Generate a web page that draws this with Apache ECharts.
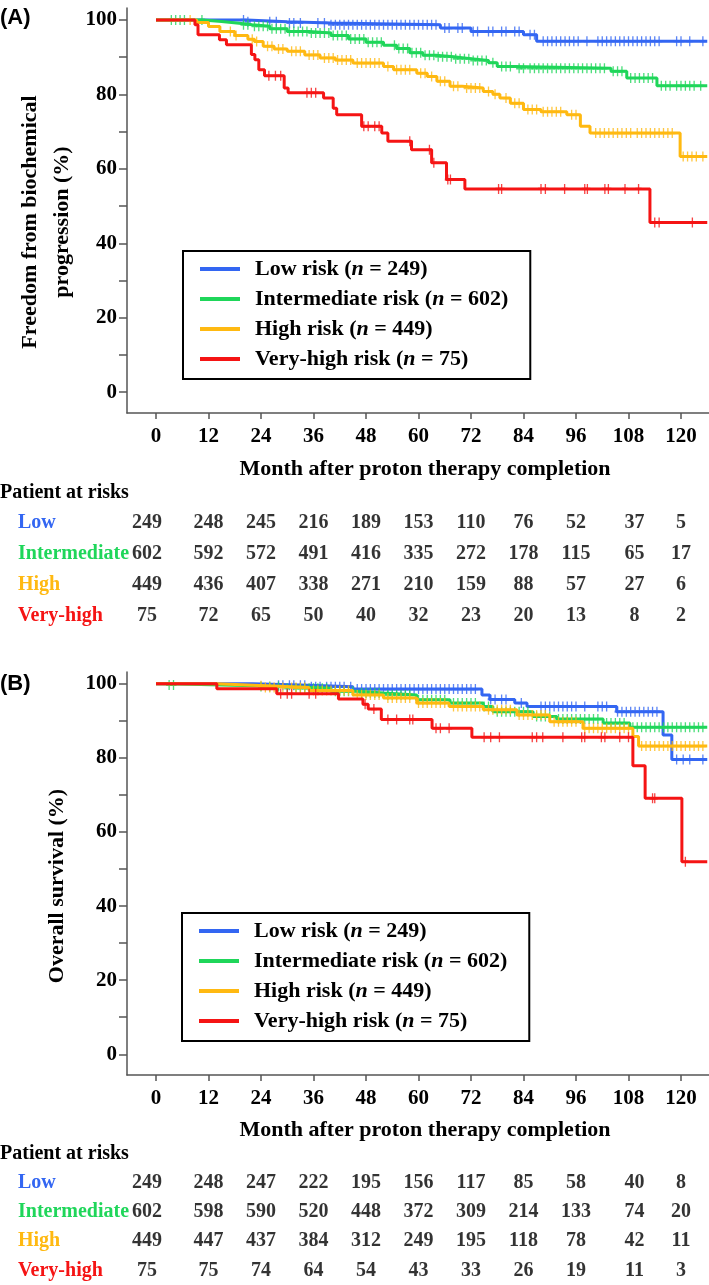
<!DOCTYPE html>
<html><head><meta charset="utf-8">
<script src="https://cdn.jsdelivr.net/npm/echarts@6/dist/echarts.min.js"></script>
<style>html,body{margin:0;padding:0;background:#fff}#c{width:709px;height:1285px}</style>
</head><body><div id="c"></div>
<script>
// ---------- DATA ----------
const groupNames = ['Low risk', 'Intermediate risk', 'High risk', 'Very-high risk'];
const groupN = [249, 602, 449, 75];
const rowNames = ['Low', 'Intermediate', 'High', 'Very-high'];
const xTicks = [0, 12, 24, 36, 48, 60, 72, 84, 96, 108, 120];
const yLabels = [0, 20, 40, 60, 80, 100];
const yMinorTicks = [0, 10, 20, 30, 40, 50, 60, 70, 80, 90, 100];

// Panel A: freedom from biochemical progression (step times / survival %)
const aLowT = [0, 20.7, 30, 40, 65, 72, 84, 87, 126];
const aLowS = [100, 99.5, 99.2, 98.7, 97.8, 96.9, 96.0, 94.3, 94.3];
const aLowC = [20, 21, 26, 27.5, 30.5, 31.5, 33, 37, 38.5, 40, 41, 42, 43, 44, 45, 46, 47, 48, 49, 50, 51, 52, 53, 54, 55, 56, 57, 58, 59, 60, 61, 62, 63, 64, 66, 67, 69, 70, 72.5, 73.5, 76, 77, 79, 80, 82, 83, 85.5, 86.5, 88.5, 89.5, 90.5, 91.5, 92.5, 93.5, 94.5, 95.5, 96.5, 98.5, 101, 102, 103, 104, 105, 106, 107, 108, 109, 110, 111, 112, 113, 114, 115, 119, 120, 122, 125];

const aIntT = [0, 10.7, 15, 19, 22, 26, 30, 35, 40, 44, 48, 52, 55, 58, 61, 64, 68, 72, 76, 78, 82, 104, 107.6, 114.5, 126];
const aIntS = [100, 99.6, 99.1, 98.7, 98.3, 97.6, 96.9, 96.5, 95.8, 94.9, 94.0, 93.2, 92.3, 91.2, 90.5, 90.1, 89.6, 89.1, 88.5, 87.5, 87.0, 86.2, 84.4, 82.3, 82.3];
const aIntC = [3.5, 4.5, 5.5, 6.5, 10.5, 20, 21, 22.5, 23.5, 24.5, 25.5, 26.5, 27.5, 28.5, 29.5, 30.5, 31.5, 32.5, 33.5, 34.5, 35.5, 36.5, 37.5, 38.5, 39.5, 40.5, 41.5, 42.5, 43.5, 44.5, 45.5, 46.5, 47.5, 48.5, 49.5, 50.5, 51.5, 54.5, 55.5, 56.5, 57.5, 58.5, 59.5, 60.5, 61.5, 62.5, 63.5, 64.5, 65.5, 66.5, 67.5, 68.5, 69.5, 70.5, 71.5, 72.5, 73.5, 74.5, 75.5, 77, 79, 80, 81, 83, 84, 85.5, 86.5, 87.5, 88.5, 89.5, 90.5, 91.5, 92.5, 93.5, 94.5, 95.5, 96.5, 97.5, 98.5, 99.5, 100.5, 101.5, 102.5, 104.5, 105.5, 106.5, 108.5, 109.5, 110.5, 111.5, 112.5, 113.5, 115.5, 116.5, 117.5, 119, 120, 121, 122, 123, 124.5];

const aHighT = [0, 9.3, 12, 14.6, 18, 21, 22.5, 24.5, 27, 30, 34, 37.5, 41, 45, 52, 54.3, 59.6, 62, 64.2, 67.2, 70, 74.8, 77, 78.6, 81, 84, 88, 93.9, 97, 99.2, 119.8, 126];
const aHighS = [100, 99.3, 98.2, 96.9, 95.8, 94.8, 94.2, 92.9, 92.2, 91.6, 90.6, 89.8, 89.2, 88.4, 87.5, 86.6, 85.7, 84.8, 83.5, 82.2, 81.7, 80.8, 80.0, 79.0, 77.6, 75.9, 75.3, 74.5, 71.4, 69.6, 63.3, 63.3];
const aHighC = [7.8, 17, 18.3, 22, 23, 25.5, 26.5, 28, 29, 31, 32, 33, 35, 36, 37, 38.5, 39.5, 40.5, 41.5, 42.5, 43.5, 44.5, 46, 47, 48, 49, 50, 51, 53, 55, 56, 57, 58, 60.5, 61.5, 63, 65, 66, 68, 69, 71, 72, 73, 74, 76, 77.5, 80, 82, 83, 85, 86, 87, 88.5, 89.5, 90.5, 91.5, 92.5, 95, 96, 100.5, 101.5, 102.5, 103.5, 104.5, 105.5, 106.5, 107.5, 108.5, 110, 111, 112, 113, 114, 115, 116, 117, 118, 120.5, 121.5, 122.5, 123.5, 125];

const aVHT = [0, 8.9, 9.6, 14.5, 16.1, 21.8, 22.6, 23.5, 24.8, 29.3, 30.2, 38.3, 40.5, 41.3, 47, 51.6, 53, 58.4, 63, 66.4, 70.6, 112.9, 126];
const aVHS = [100, 98.7, 96.0, 94.7, 93.3, 90.7, 89.3, 86.6, 85.0, 81.7, 80.4, 79.0, 76.3, 74.5, 71.4, 69.6, 67.4, 65.1, 61.6, 57.1, 54.6, 45.6, 45.6];
const aVHC = [25.8, 27.3, 28.5, 34.5, 35.5, 36.5, 47.5, 48.5, 50, 51, 58, 62.5, 63.5, 66.7, 67.3, 78.3, 79, 88, 89, 93.4, 98, 98.6, 102.6, 103.4, 107.2, 110.3, 114, 115, 122.6];

// Panel B: overall survival
const bLowT = [0, 22, 35, 45, 74.5, 76.3, 82, 84.8, 105.3, 115.9, 117.9, 126];
const bLowS = [100, 99.6, 99.2, 98.6, 97.0, 95.8, 94.8, 93.9, 92.5, 86.2, 79.6, 79.6];
const bLowC = [28, 29, 30.5, 31.5, 33, 34, 35.5, 36.5, 37.5, 39, 40, 41, 42, 43, 44.5, 46, 47, 48, 49, 50, 51, 52, 53, 54, 55, 56, 57, 58, 59, 60, 61, 62, 63, 64, 65, 66, 67, 68, 69, 70, 71, 72, 73, 76.5, 77.5, 79, 80, 83.5, 88, 89, 90, 91, 92, 93, 94, 95, 96, 98, 101, 102, 103, 105.5, 106.5, 107.5, 108.5, 109.5, 110.5, 111.5, 112.5, 113.5, 114.5, 119, 120.5, 122, 125];

const bIntT = [0, 3, 15, 30, 40, 46, 52, 59.6, 67.2, 74.8, 77, 86.2, 91.6, 102.2, 108.3, 126];
const bIntS = [100, 99.7, 99.3, 98.8, 98.0, 97.5, 97.0, 95.7, 94.8, 93.9, 92.5, 91.2, 90.5, 89.4, 88.3, 88.3];
const bIntC = [3, 4, 24, 26, 28, 30, 32, 33, 34, 35, 36, 37, 38, 39, 41, 42, 43, 44, 45, 47, 48, 49, 50, 51, 53, 54, 55, 56, 57, 58, 60, 61, 62, 63, 64, 65, 66, 68, 69, 70, 71, 72, 73, 75, 76, 78, 79, 80, 81, 82, 83, 84, 85, 87, 88, 89, 90, 92, 93, 94, 95, 96, 97, 98, 99, 100, 101, 103, 104, 105, 106, 107, 109, 110, 111, 112, 113, 114, 115, 116, 117, 118, 119, 120, 121, 122, 123, 124, 125];

const bHighT = [0, 14, 25, 35, 45, 52, 59.6, 67, 74.8, 82.5, 90, 97.6, 109, 110.3, 126];
const bHighS = [100, 99.5, 99.0, 98.2, 97.0, 96.2, 94.8, 93.9, 93.0, 91.6, 89.8, 88.0, 85.8, 83.2, 83.2];
const bHighC = [24, 25, 26, 27, 29, 31, 32, 33, 34, 36, 37, 38, 39, 40, 41, 42, 43, 44, 46, 47, 48, 49, 50, 51, 53, 54, 55, 56, 57, 58, 60, 61, 62, 63, 64, 65, 66, 68, 69, 70, 71, 72, 73, 74, 76, 77, 78, 79, 80, 81, 83, 84, 85, 86, 87, 88, 89, 91, 92, 93, 94, 95, 96, 98, 99, 100, 101, 102, 103, 104, 105, 106, 107, 108, 111, 112, 113, 114, 115, 116, 117, 118, 119, 120, 121, 122, 123, 124, 125];

const bVHT = [0, 13.9, 27.6, 41.7, 47.3, 48.5, 51.5, 63.1, 72.2, 109, 111.8, 120.2, 126];
const bVHS = [100, 98.7, 97.3, 95.9, 94.5, 93.2, 90.4, 88.0, 85.6, 77.9, 69.1, 52.0, 52.0];
const bVHC = [28.5, 30, 31, 35, 36.5, 47.8, 49.8, 53, 55, 58, 58.7, 64, 65, 67, 75, 76.5, 78.5, 86, 87, 88.4, 93, 97.3, 98, 101.8, 102.6, 106, 108, 113.5, 114, 121];

// Patients at risk
const riskA_low = [249, 248, 245, 216, 189, 153, 110, 76, 52, 37, 5];
const riskA_int = [602, 592, 572, 491, 416, 335, 272, 178, 115, 65, 17];
const riskA_high = [449, 436, 407, 338, 271, 210, 159, 88, 57, 27, 6];
const riskA_vh = [75, 72, 65, 50, 40, 32, 23, 20, 13, 8, 2];
const riskB_low = [249, 248, 247, 222, 195, 156, 117, 85, 58, 40, 8];
const riskB_int = [602, 598, 590, 520, 448, 372, 309, 214, 133, 74, 20];
const riskB_high = [449, 447, 437, 384, 312, 249, 195, 118, 78, 42, 11];
const riskB_vh = [75, 75, 74, 64, 54, 43, 33, 26, 19, 11, 3];

// ---------- STYLE ----------
const colors = ['#3366f2', '#1fd65a', '#ffb911', '#f51414'];
const SERIF = '"Liberation Serif","Times New Roman",serif';
const SANS = '"Liberation Sans",Arial,sans-serif';
const AX = '#555';

const panels = [
  {curves: [[aLowT, aLowS, aLowC], [aIntT, aIntS, aIntC], [aHighT, aHighS, aHighC], [aVHT, aVHS, aVHC]],
   risk: [riskA_low, riskA_int, riskA_high, riskA_vh]},
  {curves: [[bLowT, bLowS, bLowC], [bIntT, bIntS, bIntC], [bHighT, bHighS, bHighC], [bVHT, bVHS, bVHC]],
   risk: [riskB_low, riskB_int, riskB_high, riskB_vh]}
];

function stepAt(T, S, t) {
  let v = S[0];
  for (let i = 0; i < T.length; i++) { if (T[i] <= t) v = S[i]; }
  return v;
}

const XMIN = -6.63, XMAX = 126.4;
const grids = [
  {left: 127, top: 8, width: 582, height: 405},
  {left: 127, top: 672, width: 582, height: 403},
  {left: 127, top: 507.5, width: 582, height: 124},
  {left: 127, top: 1168, width: 582, height: 122}
];

const xAxes = [], yAxes = [], series = [];
for (let p = 0; p < 2; p++) {
  xAxes.push({
    gridIndex: p, type: 'value', min: XMIN, max: XMAX,
    axisLine: {onZero: false, lineStyle: {color: AX, width: 1.5}},
    axisTick: {customValues: xTicks, length: 6, lineStyle: {color: AX, width: 1.5}},
    axisLabel: {customValues: xTicks, margin: 13, color: '#000', fontFamily: SERIF, fontWeight: 'bold', fontSize: 21},
    splitLine: {show: false}
  });
  yAxes.push({
    gridIndex: p, type: 'value', min: -5.6, max: 103.2,
    axisLine: {onZero: false, lineStyle: {color: AX, width: 1.5}},
    axisTick: {customValues: yMinorTicks, length: 8, lineStyle: {color: AX, width: 1.5}},
    axisLabel: {customValues: yLabels, margin: 10, color: '#000', fontFamily: SERIF, fontWeight: 'bold', fontSize: 21},
    splitLine: {show: false}
  });
}
for (let p = 0; p < 2; p++) {
  const gi = 2 + p;
  xAxes.push({gridIndex: gi, type: 'value', min: XMIN, max: XMAX, show: false});
  const rich = {};
  rowNames.forEach((n, i) => { rich['r' + i] = {color: colors[i], fontFamily: SERIF, fontWeight: 'bold', fontSize: 20}; });
  yAxes.push({
    gridIndex: gi, type: 'category', data: rowNames, inverse: true,
    axisLine: {show: false}, axisTick: {show: false}, splitLine: {show: false},
    axisLabel: {align: 'left', margin: 109, formatter: (v, i) => `{r${i}|${v}}`, rich: rich}
  });
}

panels.forEach((pan, p) => {
  pan.curves.forEach((c, g) => {
    const [T, S, C] = c;
    series.push({
      type: 'line', name: groupNames[g], xAxisIndex: p, yAxisIndex: p, step: 'end',
      data: T.map((t, i) => [t, S[i]]), symbol: 'none', showSymbol: false,
      lineStyle: {color: colors[g], width: 3}, itemStyle: {color: colors[g]},
      z: 2 + g, silent: true, animation: false
    });
    series.push({
      type: 'scatter', name: 'cens' + p + g, xAxisIndex: p, yAxisIndex: p,
      data: C.map(t => [t, stepAt(T, S, t)]),
      symbol: 'path://M0,0L0,10M-3,5L3,5', symbolSize: [6, 10],
      itemStyle: {color: 'rgba(0,0,0,0)', borderColor: colors[g], borderWidth: 1.7},
      z: 2 + g, silent: true, animation: false
    });
  });
  pan.risk.forEach((row, r) => {
    series.push({
      type: 'scatter', name: 'risk' + p + r, xAxisIndex: 2 + p, yAxisIndex: 2 + p,
      symbolSize: 1, itemStyle: {color: 'rgba(0,0,0,0)'}, silent: true, animation: false,
      data: row.map((n, c) => ({
        value: [xTicks[c], r, n],
        label: {offset: [c === 0 ? -9 : (c === 9 ? 6 : 0), 0]}
      })),
      label: {show: true, position: 'inside', formatter: q => q.value[2], color: '#000',
              fontFamily: SERIF, fontWeight: 'bold', fontSize: 20}
    });
  });
});

const legendBase = {
  orient: 'vertical', icon: 'rect', itemWidth: 40, itemHeight: 4, itemGap: 8,
  borderColor: '#000', borderWidth: 2, padding: [7, 22, 9, 17], backgroundColor: '#fff',
  selectedMode: false, data: groupNames,
  formatter: name => `{sp|}${name} ({i|n} = ${groupN[groupNames.indexOf(name)]})`,
  textStyle: {color: '#000', fontFamily: SERIF, fontWeight: 'bold', fontSize: 22, lineHeight: 22,
    rich: {sp: {width: 10}, i: {fontStyle: 'italic', fontWeight: 'bold', fontFamily: SERIF, fontSize: 22, lineHeight: 22, color: '#000'}}}
};

const txt = (text, x, y, size, opts = {}) => ({
  type: 'text', x: x, y: y, rotation: opts.rot || 0, silent: true,
  style: {text: text, fill: '#000', fontFamily: opts.font || SERIF, fontWeight: 'bold', fontSize: size,
          align: opts.align || 'center', verticalAlign: 'middle', lineHeight: opts.lh || size}
});

const option = {
  backgroundColor: '#fff',
  animation: false,
  grid: grids,
  xAxis: xAxes,
  yAxis: yAxes,
  legend: [
    Object.assign({}, legendBase, {left: 183, top: 251}),
    Object.assign({}, legendBase, {left: 182, top: 913})
  ],
  series: series,
  graphic: [
    txt('(A)', 0, 18, 22, {font: SANS, align: 'left'}),
    txt('(B)', 0, 684, 22, {font: SANS, align: 'left'}),
    txt('Freedom from biochemical\nprogression (%)', 46, 222, 22, {rot: Math.PI / 2, lh: 32}),
    txt('Overall survival (%)', 57, 886, 22, {rot: Math.PI / 2}),
    txt('Month after proton therapy completion', 425, 469, 22),
    txt('Month after proton therapy completion', 425, 1130, 22),
    txt('Patient at risks', 0, 493, 20, {align: 'left'}),
    txt('Patient at risks', 0, 1154, 20, {align: 'left'})
  ]
};

const chart = echarts.init(document.getElementById('c'), null, {renderer: 'canvas'});
chart.setOption(option);
</script></body></html>
